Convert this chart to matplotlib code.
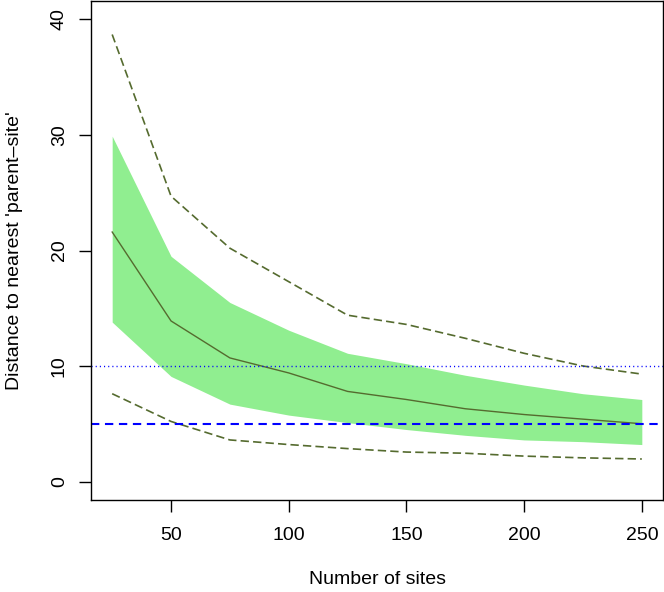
import matplotlib
matplotlib.use("Agg")
import matplotlib.pyplot as plt

plt.rcParams['font.family'] = ['Liberation Sans', 'DejaVu Sans']

n_sites = [25, 50, 75, 100, 125, 150, 175, 200, 225, 250]
median = [21.6, 13.9, 10.7, 9.4, 7.8, 7.1, 6.3, 5.8, 5.4, 5.0]
band_upper = [29.9, 19.5, 15.5, 13.1, 11.1, 10.2, 9.2, 8.35, 7.6, 7.1]
band_lower = [13.8, 9.1, 6.7, 5.75, 5.1, 4.5, 4.0, 3.6, 3.45, 3.2]
outer_upper = [38.7, 24.7, 20.2, 17.3, 14.4, 13.6, 12.4, 11.1, 10.0, 9.3]
outer_lower = [7.6, 5.2, 3.6, 3.2, 2.85, 2.55, 2.45, 2.2, 2.05, 1.95]
ref_dotted = 10
ref_dashed = 5
xticks = [50, 100, 150, 200, 250]
yticks = [0, 10, 20, 30, 40]

fig = plt.figure(figsize=(6.64, 5.92), dpi=100)
ax = fig.add_axes([91/664, 92/592, 572/664, 499/592])

line_col = '#556B2F'
ax.fill_between(n_sites, band_lower, band_upper, color='#90EE90', lw=0)
ax.plot(n_sites, median, color=line_col, lw=1.0)
ax.plot(n_sites, outer_upper, color=line_col, lw=1.2, ls=(0, (5, 2.5)))
ax.plot(n_sites, outer_lower, color=line_col, lw=1.2, ls=(0, (5, 2.5)))
ax.axhline(ref_dotted, color='#0000FF', lw=1.0, ls=(0, (0.8, 2.2)))
ax.axhline(ref_dashed, color='#0000FF', lw=1.5, ls=(0, (4, 2.7)))

ax.set_xlim(16, 259)
ax.set_ylim(-1.6, 41.6)
ax.set_xticks(xticks)
ax.set_yticks(yticks)
ax.set_yticklabels([str(v) for v in yticks], rotation=90, va='center')
ax.tick_params(direction='out', length=8.6, width=1, labelsize=14)
ax.tick_params(axis='x', pad=11)
ax.tick_params(axis='y', pad=8)
for s in ax.spines.values():
    s.set_linewidth(1.0)
ax.set_xlabel('Number of sites', fontsize=14, labelpad=19)
ax.set_ylabel("Distance to nearest 'parent\u2013site'", fontsize=14, labelpad=20)

fig.savefig('out.png', dpi=100)
